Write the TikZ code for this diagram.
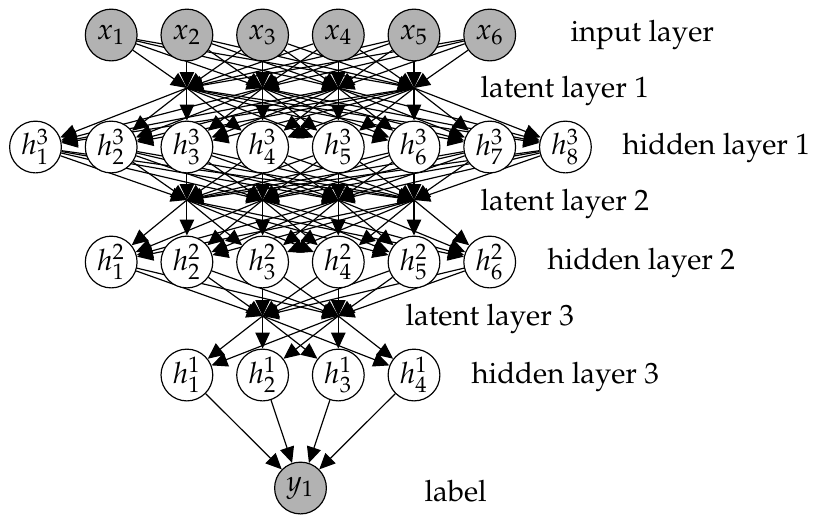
\documentclass[tikz,border=0pt]{standalone}
\usepackage[T1]{fontenc}
\usepackage{mathpazo}
\usetikzlibrary{arrows.meta}
\pgfdeclarelayer{edgelayer}
\pgfsetlayers{edgelayer,main}
\begin{document}
\begin{tikzpicture}[x=0.34pt,y=-0.34pt,
  neuron/.style={circle,draw,line width=0.4pt,minimum size=17.6pt,inner sep=0pt},
  obs/.style={neuron,fill=black!30},
  hid/.style={neuron,fill=white},
  edge/.style={-{Triangle[length=5.4pt,width=4.9pt]},line width=0.4pt},
  lab/.style={anchor=west,inner sep=0pt}]
\useasboundingbox (0,0) rectangle (813,514);
% nodes
\foreach \i in {1,...,6} \node[obs] (x\i) at ({35.5+75.7*\i},35) {$x_{\i}$};
\foreach \j in {1,...,4} \coordinate (a\j) at ({35.5+75.7*(\j+1)},88);
\foreach \k in {1,...,8} \node[hid] (h\k) at ({35.5+75.7*(\k-1)},147) {$h^3_{\k}$};
\foreach \j in {1,...,4} \coordinate (b\j) at ({35.5+75.7*(\j+1)},200);
\foreach \k in {1,...,6} \node[hid] (g\k) at ({35.5+75.7*\k},262) {$h^2_{\k}$};
\foreach \j in {1,2} \coordinate (c\j) at ({35.5+75.7*(\j+2)},316);
\foreach \k in {1,...,4} \node[hid] (f\k) at ({35.5+75.7*(\k+1)},375) {$h^1_{\k}$};
\node[obs] (y1) at (300.5,488) {$y_1$};
% edges
\begin{pgfonlayer}{edgelayer}
\foreach \i in {1,...,6} \foreach \j in {1,...,4} \draw[edge] (x\i) -- (a\j);
\foreach \j in {1,...,4} \foreach \k in {1,...,8} \draw[edge] (a\j) -- (h\k);
\foreach \k in {1,...,8} \foreach \j in {1,...,4} \draw[edge] (h\k) -- (b\j);
\foreach \j in {1,...,4} \foreach \k in {1,...,6} \draw[edge] (b\j) -- (g\k);
\foreach \k in {1,...,6} \foreach \j in {1,2} \draw[edge] (g\k) -- (c\j);
\foreach \j in {1,2} \foreach \k in {1,...,4} \draw[edge] (c\j) -- (f\k);
\foreach \k in {1,...,4} \draw[edge] (f\k) -- (y1);
\end{pgfonlayer}
% labels
\node[lab] (t1) at (570,35) {input layer};
\node[lab] (t2) at (480,91) {latent layer 1};
\node[lab] (t3) at (622,148) {hidden layer 1};
\node[lab] (t4) at (480,204) {latent layer 2};
\node[lab] (t5) at (547,263) {hidden layer 2};
\node[lab] (t6) at (405,319) {latent layer 3};
\node[lab] (t7) at (471,377) {hidden layer 3};
\node[lab] (t8) at (424,491) {label};
\end{tikzpicture}
\end{document}
